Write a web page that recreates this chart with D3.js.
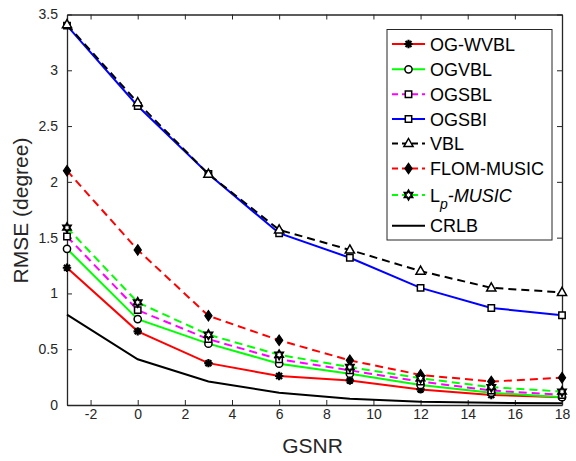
<!DOCTYPE html>
<html>
<head>
<meta charset="utf-8">
<script src="https://cdn.jsdelivr.net/npm/d3@7"></script>
<style>
  html, body { margin: 0; padding: 0; background: #fff; }
  svg { display: block; font-family: "Liberation Sans", Arial, sans-serif; }
</style>
</head>
<body>
<svg id="chart" width="576" height="461"></svg>
<script>
// ---- data ----
const gsnr = [-3, 0, 3, 6, 9, 12, 15, 18];
const ogWvbl   = [1.23, 0.66, 0.375, 0.26, 0.22, 0.14, 0.09, 0.07];
const ogVbl    = [1.40, 0.77, 0.55, 0.37, 0.28, 0.18, 0.11, 0.07];
const ogSbl    = [1.51, 0.85, 0.59, 0.41, 0.31, 0.21, 0.13, 0.09];
const ogSbi    = [3.40, 2.68, 2.07, 1.54, 1.32, 1.05, 0.87, 0.805];
const vbl      = [3.41, 2.71, 2.07, 1.57, 1.39, 1.20, 1.05, 1.01];
const flomMusic= [2.10, 1.39, 0.80, 0.58, 0.40, 0.27, 0.21, 0.245];
const lpMusic  = [1.59, 0.92, 0.63, 0.45, 0.34, 0.24, 0.16, 0.12];
const crlb     = [0.81, 0.41, 0.21, 0.11, 0.055, 0.03, 0.02, 0.015];
const xTicks = [-2, 0, 2, 4, 6, 8, 10, 12, 14, 16, 18];
const yTicks = [0, 0.5, 1, 1.5, 2, 2.5, 3, 3.5];
const legendLabels = ["OG-WVBL", "OGVBL", "OGSBL", "OGSBI", "VBL", "FLOM-MUSIC", "Lp-MUSIC", "CRLB"];

const series = [
  {name: legendLabels[0], values: ogWvbl,    color: "#ff0000", dash: null,  marker: "asterisk"},
  {name: legendLabels[1], values: ogVbl,     color: "#00ff00", dash: null,  marker: "circle"},
  {name: legendLabels[2], values: ogSbl,     color: "#ff00ff", dash: "8,5", marker: "square"},
  {name: legendLabels[3], values: ogSbi,     color: "#0000ff", dash: null,  marker: "square"},
  {name: legendLabels[4], values: vbl,       color: "#000000", dash: "8,5", marker: "triangle"},
  {name: legendLabels[5], values: flomMusic, color: "#ff0000", dash: "8,5", marker: "diamond"},
  {name: legendLabels[6], values: lpMusic,   color: "#00ff00", dash: "8,5", marker: "hexagram"},
  {name: legendLabels[7], values: crlb,      color: "#000000", dash: null,  marker: null}
];

const svg = d3.select("#chart");
const L = 67, R = 562, T = 14.5, B = 405;
const x = d3.scaleLinear().domain([-3, 18]).range([L, R]);
const y = d3.scaleLinear().domain([0, 3.5]).range([B, T]);
const axisColor = "#262626";

// marker paths
function markerPath(type) {
  switch (type) {
    case "asterisk": {
      const r = 4.2, d = r * 0.7071;
      return `M${-r},0L${r},0M0,${-r}L0,${r}M${-d},${-d}L${d},${d}M${-d},${d}L${d},${-d}`;
    }
    case "circle": return "M3.6,0A3.6,3.6 0 1,1 -3.6,0A3.6,3.6 0 1,1 3.6,0Z";
    case "square": return "M-3.2,-3.2L3.2,-3.2L3.2,3.2L-3.2,3.2Z";
    case "triangle": return "M0,-5L4.6,3.1L-4.6,3.1Z";
    case "diamond": return "M0,-5.2L3.6,0L0,5.2L-3.6,0Z";
    case "hexagram": {
      const ro = 4.4, ri = 2.54;
      let p = "";
      for (let i = 0; i < 12; i++) {
        const a = -Math.PI / 2 + i * Math.PI / 6;
        const r = i % 2 === 0 ? ro : ri;
        p += (i === 0 ? "M" : "L") + (r * Math.cos(a)).toFixed(2) + "," + (r * Math.sin(a)).toFixed(2);
      }
      return p + "Z";
    }
  }
  return "";
}
function drawMarker(g, type) {
  const p = g.append("path").attr("d", markerPath(type)).attr("stroke", "#000");
  if (type === "asterisk") p.attr("fill", "none").attr("stroke-width", 2.2);
  else if (type === "diamond") p.attr("fill", "#000").attr("stroke-width", 1.2);
  else if (type === "hexagram") p.attr("fill", "#fff").attr("stroke-width", 2);
  else p.attr("fill", "#fff").attr("stroke-width", 1.5);
}

// axes (inward ticks, box)
svg.append("rect").attr("x", L).attr("y", T).attr("width", R - L).attr("height", B - T)
  .attr("fill", "#fff");

const fmt = d => String(d);
const gx = svg.append("g").attr("transform", `translate(0,${B})`)
  .call(d3.axisBottom(x).tickValues(xTicks).tickSizeInner(-5).tickSizeOuter(0).tickPadding(4).tickFormat(fmt));
const gxt = svg.append("g").attr("transform", `translate(0,${T})`)
  .call(d3.axisTop(x).tickValues(xTicks).tickSizeInner(-5).tickSizeOuter(0).tickFormat(""));
const gy = svg.append("g").attr("transform", `translate(${L},0)`)
  .call(d3.axisLeft(y).tickValues(yTicks).tickSizeInner(-5).tickSizeOuter(0).tickPadding(9).tickFormat(fmt));
const gyr = svg.append("g").attr("transform", `translate(${R},0)`)
  .call(d3.axisRight(y).tickValues(yTicks).tickSizeInner(-5).tickSizeOuter(0).tickFormat(""));
[gx, gxt, gy, gyr].forEach(g => {
  g.selectAll("path.domain").attr("stroke", axisColor).attr("stroke-width", 1.3);
  g.selectAll(".tick line").attr("stroke", axisColor).attr("stroke-width", 1);
  g.selectAll(".tick text").attr("fill", axisColor).style("font-size", "14px")
    .style("font-family", "'Liberation Sans', Arial, sans-serif");
});

// lines
const line = d3.line().x((d, i) => x(gsnr[i])).y(d => y(d));
series.forEach(s => {
  const g = svg.append("g");
  g.append("path").datum(s.values).attr("d", line)
    .attr("fill", "none").attr("stroke", s.color).attr("stroke-width", 2)
    .attr("stroke-dasharray", s.dash);
  if (s.marker) {
    s.values.forEach((v, i) => {
      const mg = g.append("g").attr("transform", `translate(${x(gsnr[i])},${y(v)})`);
      drawMarker(mg, s.marker);
    });
  }
});

// axis labels
svg.append("text").attr("x", (L + R) / 2 - 2).attr("y", 453).attr("text-anchor", "middle")
  .attr("fill", axisColor).style("font-size", "21px").text("GSNR");
svg.append("text").attr("transform", "translate(28,210.5) rotate(-90)").attr("text-anchor", "middle")
  .attr("fill", axisColor).style("font-size", "21px").text("RMSE (degree)");

// legend
const lg = svg.append("g");
lg.append("rect").attr("x", 387).attr("y", 29.5).attr("width", 165).attr("height", 210.5)
  .attr("fill", "#fff").attr("stroke", axisColor).attr("stroke-width", 1);
const rowY = [44, 69.3, 94.3, 119, 143.5, 168.5, 195, 225.7];
series.forEach((s, i) => {
  const yy = rowY[i];
  lg.append("line").attr("x1", 392).attr("x2", 425).attr("y1", yy).attr("y2", yy)
    .attr("stroke", s.color).attr("stroke-width", 2).attr("stroke-dasharray", s.dash ? "6,4" : null);
  if (s.marker) drawMarker(lg.append("g").attr("transform", `translate(408.5,${yy})`), s.marker);
  const t = lg.append("text").attr("x", 430).attr("y", yy + 6.5).attr("fill", "#000")
    .style("font-size", "18px");
  if (s.name === "Lp-MUSIC") {
    t.append("tspan").text("L");
    t.append("tspan").attr("dy", 7).style("font-size", "14px").style("font-style", "italic").text("p");
    t.append("tspan").attr("dy", -7).style("font-style", "italic").text("-MUSIC");
  } else {
    t.text(s.name);
  }
});
</script>
</body>
</html>
